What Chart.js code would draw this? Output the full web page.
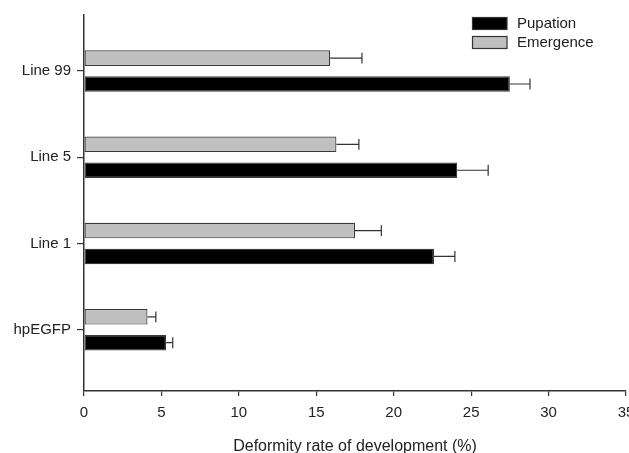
<!DOCTYPE html>
<html>
<head>
<meta charset="utf-8">
<script src="https://cdn.jsdelivr.net/npm/chart.js@4/dist/chart.umd.min.js"></script>
<style>
  html, body { margin: 0; padding: 0; background: #fff; }
  #wrap { width: 629px; height: 453px; position: relative; }
</style>
</head>
<body>
<div id="wrap"><canvas id="c" width="629" height="453"></canvas></div>
<script>
// ---- data ----
const categories = ["Line 99", "Line 5", "Line 1", "hpEGFP"];
const pupation = [27.5, 24.1, 22.6, 5.3];
const pupationErr = [1.3, 2.0, 1.35, 0.43];
const emergence = [15.9, 16.3, 17.5, 4.1];
const emergenceErr = [2.05, 1.45, 1.7, 0.54];
const xTicks = [0, 5, 10, 15, 20, 25, 30, 35];
const seriesNames = ["Pupation", "Emergence"];
const xTitle = "Deformity rate of development (%)";

const FONT = "'Liberation Sans', Arial, sans-serif";
const INK = "#222";

const errorBars = {
  id: 'errorBars',
  afterDatasetsDraw(chart) {
    const ctx = chart.ctx, xs = chart.scales.x;
    ctx.save();
    ctx.strokeStyle = '#333';
    ctx.lineWidth = 1.2;
    chart.data.datasets.forEach((ds, di) => {
      const meta = chart.getDatasetMeta(di);
      meta.data.forEach((bar, i) => {
        const v = ds.data[i].x, e = ds.errors[i];
        const x0 = bar.x, x1 = xs.getPixelForValue(v + e);
        const y = bar.y, h = bar.height * 0.35;
        ctx.beginPath();
        ctx.moveTo(x0, y); ctx.lineTo(x1, y);
        ctx.moveTo(x1, y - h); ctx.lineTo(x1, y + h);
        ctx.stroke();
      });
    });
    ctx.restore();
  }
};

const customLegend = {
  id: 'customLegend',
  afterDraw(chart) {
    const ctx = chart.ctx;
    const items = chart.data.datasets.slice().reverse();
    ctx.save();
    ctx.font = "15px " + FONT;
    ctx.textBaseline = 'middle';
    ctx.textAlign = 'left';
    items.forEach((ds, k) => {
      const top = 17.5 + k * 19;
      ctx.fillStyle = ds.backgroundColor;
      ctx.fillRect(472.5, top, 34.5, 12);
      ctx.strokeStyle = '#333';
      ctx.lineWidth = 1.2;
      ctx.strokeRect(472.5, top, 34.5, 12);
      ctx.fillStyle = INK;
      ctx.fillText(ds.label, 517, top + 6.5);
    });
    ctx.restore();
  }
};

new Chart(document.getElementById('c'), {
  type: 'bar',
  data: {
    datasets: [
      {
        label: seriesNames[1],
        data: emergence.map((v, i) => ({ x: v, y: i })),
        errors: emergenceErr,
        backgroundColor: '#c0c0c0',
        borderColor: '#3a3a3a',
        borderWidth: 1.2,
        borderSkipped: false
      },
      {
        label: seriesNames[0],
        data: pupation.map((v, i) => ({ x: v, y: i })),
        errors: pupationErr,
        backgroundColor: '#000000',
        borderColor: '#3a3a3a',
        borderWidth: 1.2,
        borderSkipped: false
      }
    ]
  },
  options: {
    indexAxis: 'y',
    responsive: false,
    animation: false,
    devicePixelRatio: 1,
    categoryPercentage: 0.6,
    barPercentage: 0.6,
    layout: { padding: { top: 15, right: 3, left: 0, bottom: 0 } },
    plugins: {
      legend: { display: false },
      tooltip: { enabled: false }
    },
    scales: {
      y: {
        type: 'linear',
        reverse: true,
        offset: false,
        min: -0.65,
        max: 3.71,
        grid: { offset: false, drawOnChartArea: false, drawTicks: true, tickLength: 7, color: '#333', lineWidth: 1.2 },
        border: { display: true, color: '#333', width: 1.5 },
        ticks: {
          stepSize: 1,
          includeBounds: false,
          autoSkip: false,
          padding: 6,
          color: INK,
          font: { family: FONT, size: 15 },
          callback: (v) => (Number.isInteger(v) && categories[v] !== undefined) ? categories[v] : ''
        },
        afterBuildTicks(s) { s.ticks = categories.map((c, i) => ({ value: i })); },
        afterFit(s) { s.width = 84; s.paddingTop = 0; s.paddingBottom = 0; }
      },
      x: {
        type: 'linear',
        offset: false,
        min: xTicks[0],
        max: xTicks[xTicks.length - 1],
        afterBuildTicks(s) { s.ticks = xTicks.map(v => ({ value: v })); },
        grid: { drawOnChartArea: false, drawTicks: true, tickLength: 5, color: '#333', lineWidth: 1.2 },
        border: { display: true, color: '#333', width: 1.5 },
        ticks: {
          padding: 8,
          maxRotation: 0,
          color: INK,
          font: { family: FONT, size: 15 }
        },
        title: {
          display: true,
          text: xTitle,
          color: INK,
          font: { family: FONT, size: 16 },
          padding: { top: 0, bottom: -3 }
        },
        afterFit(s) { s.height = 62; s.paddingLeft = 0; s.paddingRight = 0; }
      }
    }
  },
  plugins: [errorBars, customLegend]
});
</script>
</body>
</html>
